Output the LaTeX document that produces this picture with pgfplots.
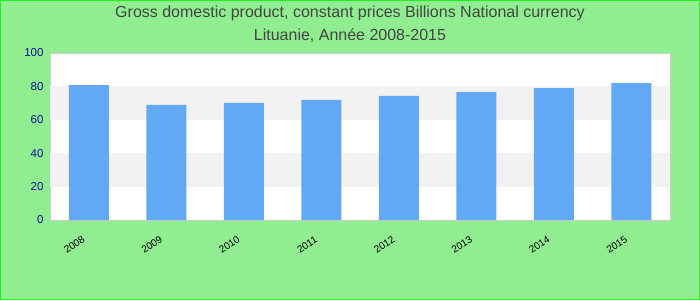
\documentclass[border=0pt]{standalone}
\usepackage{pgfplots}
\pgfplotsset{compat=1.18}
\usepackage{fontspec}
\setmainfont{Liberation Sans}
\definecolor{bgGreen}{HTML}{90EE90}
\definecolor{borderGreen}{HTML}{22EE22}
\definecolor{barBlue}{RGB}{98,169,245}
\definecolor{bandGray}{HTML}{F2F2F2}
\definecolor{titleGray}{HTML}{444444}
\definecolor{tickBlue}{HTML}{101090}
\begin{document}
\begin{tikzpicture}
\fill[bgGreen] (0pt,0pt) rectangle (700pt,300pt);
\draw[borderGreen, line width=1pt] (0.5pt,0.5pt) rectangle (699.5pt,299.5pt);
\node[text=titleGray, font=\fontsize{16}{19}\selectfont] at (350pt,287pt) {Gross domestic product, constant prices Billions National currency};
\node[text=titleGray, font=\fontsize{16}{19}\selectfont] at (350pt,264pt) {Lituanie, Année 2008-2015};
\begin{axis}[
  at={(50pt,80pt)}, anchor=south west,
  scale only axis, width=620pt, height=167pt,
  xmin=-0.5, xmax=7.5, ymin=0, ymax=100,
  axis background/.style={fill=white},
  axis line style={draw=black!20, line width=0.8pt},
  xtick=data,
  xticklabels={2008,2009,2010,2011,2012,2013,2014,2015},
  ytick={0,20,40,60,80,100},
  major tick length=0pt,
  x tick label style={font=\fontsize{10}{12}\selectfont, rotate=33, anchor=north east, text=black, xshift=-11pt, yshift=-6pt},
  y tick label style={font=\fontsize{11.5}{13}\selectfont, text=tickBlue, xshift=-3pt},
  /pgf/number format/assume math mode=true,
  ybar, bar width=40pt,
  clip=false,
]
\fill[bandGray] (axis cs:-0.5,20) rectangle (axis cs:7.5,40);
\fill[bandGray] (axis cs:-0.5,60) rectangle (axis cs:7.5,80);
\addplot[fill=barBlue, draw=none] coordinates {(0,80.8) (1,68.9) (2,70.1) (3,71.9) (4,74.3) (5,76.6) (6,79.0) (7,82.0)};
\end{axis}
\end{tikzpicture}
\end{document}
